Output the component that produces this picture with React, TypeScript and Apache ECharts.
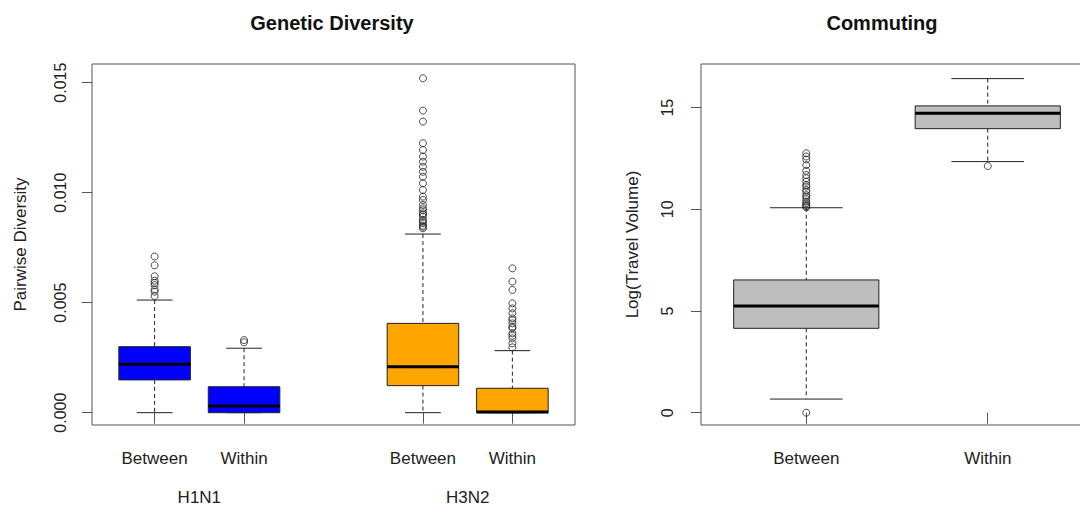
import React, { useEffect, useRef } from 'react';
import * as echarts from 'echarts';

// ---------- Genetic Diversity panel ----------
const diversityGroups = ['H1N1', 'H3N2'];
const diversityGroupCenters = [1.5, 4.5];
const diversityCategories = ['Between', 'Within', 'Between', 'Within'];
const diversityPositions = [1, 2, 4, 5];
// [lower whisker, Q1, median, Q3, upper whisker]
const diversityStats = [
  [0, 0.00149, 0.0022, 0.003, 0.00512],
  [0, 0, 0.0003, 0.00118, 0.00293],
  [0, 0.00123, 0.00209, 0.00406, 0.00812],
  [0, 0, 0.00003, 0.00111, 0.00282],
];
const diversityColors = ['#0000FF', '#0000FF', '#FFA500', '#FFA500'];
const diversityOutliers = [
  [0.0071, 0.0067, 0.0062, 0.006, 0.0059, 0.0058, 0.0056, 0.0055, 0.0053],
  [0.0032, 0.0033],
  [0.0152, 0.01373, 0.01323, 0.01225, 0.01194, 0.01164, 0.01141, 0.01118, 0.01095,
    0.01073, 0.01043, 0.01012, 0.00982, 0.00967, 0.00944, 0.00929, 0.00906, 0.00891,
    0.00876, 0.00861, 0.00845, 0.00838, 0.0085, 0.0087, 0.009, 0.0092],
  [0.00656, 0.00596, 0.00558, 0.00497, 0.00474, 0.00452, 0.00429, 0.00406, 0.00384,
    0.00361, 0.00338, 0.00315, 0.00297, 0.0039, 0.0042, 0.0035],
];
const diversityTicks = [0, 0.005, 0.01, 0.015];

// ---------- Commuting panel ----------
const commutingCategories = ['Between', 'Within'];
const commutingPositions = [1, 2];
const commutingStats = [
  [0.67, 4.15, 5.25, 6.53, 10.08],
  [12.35, 13.97, 14.73, 15.09, 16.43],
];
const commutingColors = ['#BEBEBE', '#BEBEBE'];
const commutingOutliers = [
  [0, 12.76, 12.6, 12.45, 12.18, 11.9, 11.69, 11.53, 11.36, 11.2, 11.12, 10.95, 10.87,
    10.7, 10.62, 10.5, 10.38, 10.3, 10.22, 10.15, 10.1],
  [12.13],
];
const commutingTicks = [0, 5, 10, 15];

const FONT = '"Liberation Sans", Arial, sans-serif';
const TEXT = '#222';
const FRAME = '#555';

function makeRenderBox(colors: string[]) {
  return (params: any, api: any) => {
    const x = api.value(0);
    const lo = api.value(1);
    const q1 = api.value(2);
    const md = api.value(3);
    const q3 = api.value(4);
    const hi = api.value(5);
    const half = 0.4;
    const cap = 0.2;
    const boxTL = api.coord([x - half, q3]);
    const boxBR = api.coord([x + half, q1]);
    const pc = (v: number) => api.coord([x, v]);
    const cL = api.coord([x - cap, hi]);
    const cR = api.coord([x + cap, hi]);
    const cLl = api.coord([x - cap, lo]);
    const cRl = api.coord([x + cap, lo]);
    const mL = api.coord([x - half, md]);
    const mR = api.coord([x + half, md]);
    const dash = { stroke: '#222', lineWidth: 1, lineDash: [4, 3] };
    const solid = { stroke: '#222', lineWidth: 1 };
    return {
      type: 'group',
      children: [
        { type: 'line', shape: { x1: pc(hi)[0], y1: pc(hi)[1], x2: pc(q3)[0], y2: pc(q3)[1] }, style: dash },
        { type: 'line', shape: { x1: pc(q1)[0], y1: pc(q1)[1], x2: pc(lo)[0], y2: pc(lo)[1] }, style: dash },
        { type: 'line', shape: { x1: cL[0], y1: cL[1], x2: cR[0], y2: cR[1] }, style: solid },
        { type: 'line', shape: { x1: cLl[0], y1: cLl[1], x2: cRl[0], y2: cRl[1] }, style: solid },
        {
          type: 'rect',
          shape: { x: boxTL[0], y: boxTL[1], width: boxBR[0] - boxTL[0], height: boxBR[1] - boxTL[1] },
          style: { fill: colors[params.dataIndex], stroke: '#222', lineWidth: 1 },
        },
        { type: 'line', shape: { x1: mL[0], y1: mL[1], x2: mR[0], y2: mR[1] }, style: { stroke: '#000', lineWidth: 3 } },
      ],
    };
  };
}

const outlierStyle = {
  color: 'rgba(0,0,0,0)',
  borderColor: '#222',
  borderWidth: 1,
};

export default function App() {
  const ref = useRef<HTMLDivElement>(null);

  useEffect(() => {
    document.body.style.margin = '0';
    if (!ref.current) return;
    const chart = echarts.init(ref.current, undefined, { renderer: 'svg' });

    const divBoxData = diversityStats.map((s, i) => [diversityPositions[i], ...s]);
    const comBoxData = commutingStats.map((s, i) => [commutingPositions[i], ...s]);
    const divOut: number[][] = [];
    diversityOutliers.forEach((arr, i) => arr.forEach((v) => divOut.push([diversityPositions[i], v])));
    const comOut: number[][] = [];
    commutingOutliers.forEach((arr, i) => arr.forEach((v) => comOut.push([commutingPositions[i], v])));

    const catLabel = (positions: number[], cats: string[]) => (v: number) => {
      const idx = positions.indexOf(Math.round(v * 100) / 100);
      return idx >= 0 ? cats[idx] : '';
    };

    const xAxisCommon = {
      type: 'value',
      axisLine: { show: false },
      splitLine: { show: false },
      axisTick: { show: true, inside: false, length: 11, lineStyle: { color: FRAME, width: 1 } },
    };
    const yAxisCommon = {
      type: 'value',
      axisLine: { show: false },
      splitLine: { show: false },
      axisTick: { show: true, inside: false, length: 10, lineStyle: { color: FRAME, width: 1 } },
      nameLocation: 'middle',
      nameRotate: 90,
      nameTextStyle: { fontFamily: FONT, fontSize: 17, color: TEXT },
    };

    chart.setOption({
      animation: false,
      textStyle: { fontFamily: FONT },
      title: [
        {
          text: 'Genetic Diversity',
          left: 327,
          top: 8,
          textAlign: 'center',
          textStyle: { fontFamily: FONT, fontSize: 20, fontWeight: 'bold', color: '#111' },
        },
        {
          text: 'Commuting',
          left: 877,
          top: 8,
          textAlign: 'center',
          textStyle: { fontFamily: FONT, fontSize: 20, fontWeight: 'bold', color: '#111' },
        },
      ],
      grid: [
        { left: 92, top: 64, width: 483, height: 361, show: true, borderColor: FRAME, borderWidth: 1, backgroundColor: 'transparent' },
        { left: 701, top: 64, width: 392, height: 361, show: true, borderColor: FRAME, borderWidth: 1, backgroundColor: 'transparent' },
      ],
      xAxis: [
        {
          ...xAxisCommon,
          gridIndex: 0,
          min: 0.3,
          max: 5.7,
          axisTick: { ...xAxisCommon.axisTick, customValues: diversityPositions },
          axisLabel: {
            customValues: diversityPositions,
            formatter: catLabel(diversityPositions, diversityCategories),
            fontFamily: FONT,
            fontSize: 17,
            color: TEXT,
            margin: 25,
          },
        },
        {
          ...xAxisCommon,
          gridIndex: 1,
          min: 0.42,
          max: 2.58,
          axisTick: { ...xAxisCommon.axisTick, customValues: commutingPositions },
          axisLabel: {
            customValues: commutingPositions,
            formatter: catLabel(commutingPositions, commutingCategories),
            fontFamily: FONT,
            fontSize: 17,
            color: TEXT,
            margin: 25,
          },
        },
      ],
      yAxis: [
        {
          ...yAxisCommon,
          gridIndex: 0,
          min: -0.00056,
          max: 0.01585,
          name: 'Pairwise Diversity',
          nameGap: 63,
          axisTick: { ...yAxisCommon.axisTick, customValues: diversityTicks },
          axisLabel: {
            customValues: diversityTicks,
            formatter: (v: number) => v.toFixed(3),
            rotate: 90,
            fontFamily: FONT,
            fontSize: 16,
            color: TEXT,
            margin: 24,
          },
        },
        {
          ...yAxisCommon,
          gridIndex: 1,
          min: -0.605,
          max: 17.15,
          name: 'Log(Travel Volume)',
          nameGap: 60,
          axisTick: { ...yAxisCommon.axisTick, customValues: commutingTicks },
          axisLabel: {
            customValues: commutingTicks,
            formatter: (v: number) => String(v),
            rotate: 90,
            fontFamily: FONT,
            fontSize: 16,
            color: TEXT,
            margin: 26,
          },
        },
      ],
      graphic: diversityGroups.map((g, i) => ({
        type: 'text',
        x: 92 + ((diversityGroupCenters[i] - 0.3) / 5.4) * 483,
        y: 497,
        style: {
          text: g,
          textAlign: 'center',
          textVerticalAlign: 'middle',
          font: `17px ${FONT}`,
          fill: TEXT,
        },
      })),
      series: [
        {
          type: 'custom',
          name: 'Genetic Diversity',
          xAxisIndex: 0,
          yAxisIndex: 0,
          renderItem: makeRenderBox(diversityColors),
          encode: { x: 0, y: [1, 2, 3, 4, 5] },
          data: divBoxData,
          z: 2,
        },
        {
          type: 'scatter',
          name: 'Diversity outliers',
          xAxisIndex: 0,
          yAxisIndex: 0,
          symbol: 'circle',
          symbolSize: 7,
          itemStyle: outlierStyle,
          data: divOut,
          z: 3,
        },
        {
          type: 'custom',
          name: 'Commuting',
          xAxisIndex: 1,
          yAxisIndex: 1,
          renderItem: makeRenderBox(commutingColors),
          encode: { x: 0, y: [1, 2, 3, 4, 5] },
          data: comBoxData,
          z: 2,
        },
        {
          type: 'scatter',
          name: 'Commuting outliers',
          xAxisIndex: 1,
          yAxisIndex: 1,
          symbol: 'circle',
          symbolSize: 7,
          itemStyle: outlierStyle,
          data: comOut,
          z: 3,
        },
      ],
    });

    return () => chart.dispose();
  }, []);

  return (
    <div style={{ width: 1080, height: 508, overflow: 'hidden' }}>
      <div ref={ref} style={{ width: 1110, height: 508 }} />
    </div>
  );
}
